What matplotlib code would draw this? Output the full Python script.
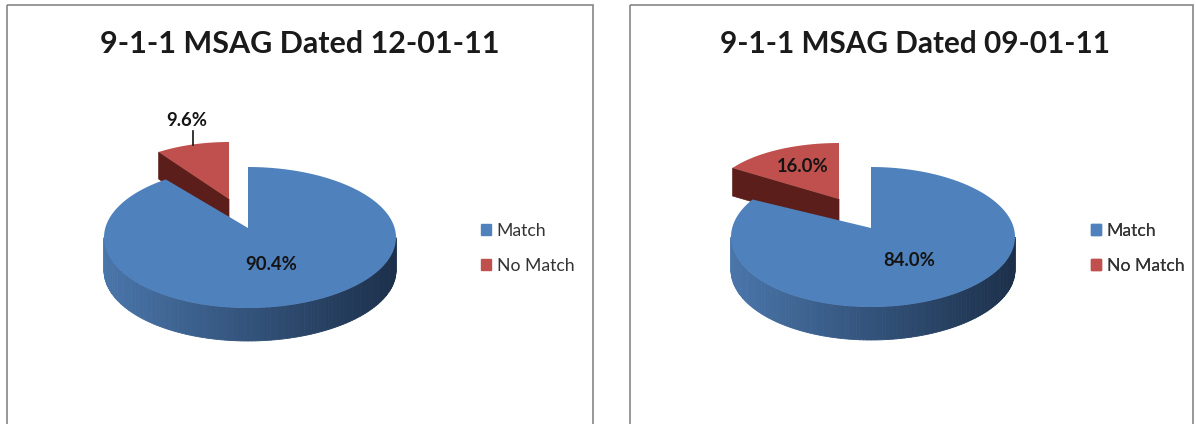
import numpy as np
import matplotlib
matplotlib.use("Agg")
import matplotlib.pyplot as plt
from matplotlib.patches import Patch, Rectangle
from matplotlib.colors import to_rgb

plt.rcParams['font.family'] = ['Lato', 'DejaVu Sans']

# data
categories = ["Match", "No Match"]
titles = ["9-1-1 MSAG Dated 12-01-11", "9-1-1 MSAG Dated 09-01-11"]
match_pct = [90.4, 84.0]
no_match_pct = [9.6, 16.0]

BLUE = "#4f81bd"
RED = "#c0504d"
DARK_RED = "#5b1e1a"
SIDE_LEFT = "#4a76ab"
SIDE_RIGHT = "#1c304b"

W, H = 1196, 424
fig = plt.figure(figsize=(W / 100, H / 100), dpi=100)
ax = fig.add_axes([0, 0, 1, 1])
ax.set_xlim(0, W)
ax.set_ylim(H, 0)
ax.axis("off")


def rim(theta, apex, rx, ry, dy, skew=0.0):
    # point on the tilted pie edge, theta clockwise from the top (degrees)
    t = np.radians(theta)
    x = apex[0] + rx * np.sin(t) + skew * np.sin(t) ** 2
    y = apex[1] + dy - ry * np.cos(t)
    return x, y


def draw_pie(match, no_match, apex, rx, ry, dy, skew, depth, red_apex, red_rx, red_ry, red_dy, red_depth):
    red_sweep = 360 * no_match / (match + no_match)

    # red slice, pulled out of the pie
    th = np.linspace(-red_sweep, 0, 60)
    rxs, rys = rim(th, red_apex, red_rx, red_ry, red_dy)
    lx, ly = rxs[0], rys[0]
    ax.fill([lx, red_apex[0], red_apex[0], lx],
            [ly, red_apex[1], red_apex[1] + red_depth, ly + red_depth],
            color=DARK_RED, lw=0.5, zorder=2)
    ax.fill(np.r_[red_apex[0], rxs], np.r_[red_apex[1], rys], color=RED, lw=0, zorder=3)

    # blue wall, one thin strip per step so it can fade left to right
    steps = np.linspace(270, 90, 121)
    c0, c1 = np.array(to_rgb(SIDE_LEFT)), np.array(to_rgb(SIDE_RIGHT))
    for i in range(len(steps) - 1):
        a = np.linspace(steps[i], steps[i + 1], 3)
        x, y = rim(a, apex, rx, ry, dy, skew)
        k = (x.mean() - (apex[0] - rx)) / (2 * rx)
        col = c0 + (c1 - c0) * np.clip(k, 0, 1)
        ax.fill(np.r_[x, x[::-1]], np.r_[y, y[::-1] + depth],
                color=col, lw=0.6, zorder=4)

    # blue top
    th = np.linspace(0, 360 - red_sweep, 240)
    x, y = rim(th, apex, rx, ry, dy, skew)
    ax.fill(np.r_[apex[0], x], np.r_[apex[1], y], color=BLUE, lw=0, zorder=5)


def draw_legend(x, y):
    handles = [Patch(color=BLUE, label=categories[0]), Patch(color=RED, label=categories[1])]
    leg = ax.legend(handles=handles, loc="upper left", bbox_to_anchor=(x, y),
                    bbox_transform=ax.transData, frameon=False, fontsize=12.7,
                    labelcolor="#333333", handlelength=0.58, handleheight=0.58,
                    handletextpad=0.3, labelspacing=1.05, borderpad=0, borderaxespad=0)
    ax.add_artist(leg)


# chart frames
ax.add_patch(Rectangle((7, 5), 586, 430, fill=False, ec="#868686", lw=1.2))
ax.add_patch(Rectangle((630, 5), 563, 430, fill=False, ec="#868686", lw=1.2))

draw_pie(match_pct[0], no_match_pct[0], (248, 228), 146, 70.5, 9.5, 2, 33,
         (229, 199), 124, 56.8, -0.2, 27)
draw_pie(match_pct[1], no_match_pct[1], (871, 228), 142, 70, 9, 2, 33,
         (839, 199), 126, 53.9, -2.1, 28)

ax.text(300, 44, titles[0], ha="center", va="center", fontsize=22, fontweight="bold", color="#1a1a1a")
ax.text(915.5, 44, titles[1], ha="center", va="center", fontsize=21.4, fontweight="bold", color="#1a1a1a")

# value labels
lab = dict(ha="center", va="center", fontsize=13.3, fontweight="bold", color="#141414", zorder=8)
ax.text(271, 265, f"{match_pct[0]:.1f}%", **lab)
ax.text(187, 121, f"{no_match_pct[0]:.1f}%", **lab)
ax.text(909, 261, f"{match_pct[1]:.1f}%", **lab)
ax.text(803, 167, f"{no_match_pct[1]:.1f}%", **lab)
ax.plot([193, 193], [131, 145], color="#141414", lw=1.2, zorder=8)

draw_legend(481, 223)
draw_legend(1091, 223)

fig.savefig("out.png", dpi=100, facecolor="white")
